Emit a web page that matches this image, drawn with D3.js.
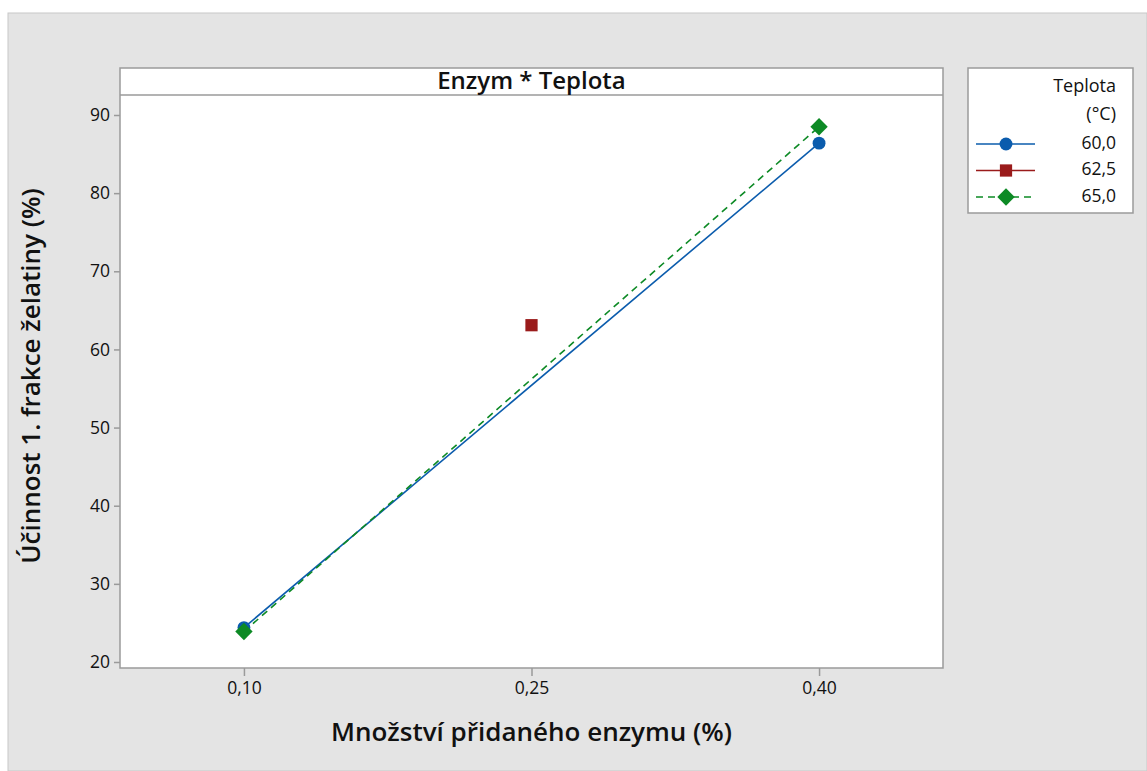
<!DOCTYPE html>
<html>
<head>
<meta charset="utf-8">
<script src="https://d3js.org/d3.v7.min.js"></script>
<style>
  body { margin: 0; background: white; }
  text { font-family: "Open Sans", "Noto Sans", sans-serif; fill: #111; font-weight: 600; }
</style>
</head>
<body>
<div id="chart"></div>
<script>
// data
const enzyme = ['0,10', '0,25', '0,40'];
const yTicks = [20, 30, 40, 50, 60, 70, 80, 90];
const temps = ['60,0', '62,5', '65,0'];
const colors = ['#0b5cad', '#9a1b1b', '#0d8a25'];
const symbols = ['circle', 'square', 'diamond'];
const dashes = [null, null, '7,5'];
const values60 = [24.4, null, 86.4];
const values625 = [null, 63.1, null];
const values65 = [23.9, null, 88.5];
const seriesValues = [values60, values625, values65];

const W = 1147, H = 771;
const plot = { left: 120, right: 943, top: 68, bottom: 668 };
const strip = 27;

const svg = d3.select('#chart').append('svg')
  .attr('width', W).attr('height', H);

// figure background
svg.append('rect')
  .attr('x', 8).attr('y', 13).attr('width', W - 8).attr('height', H - 13)
  .attr('fill', '#e4e4e4').attr('stroke', '#c8c8c8');

const x = d3.scalePoint().domain(enzyme)
  .range([plot.left, plot.right]).padding(0.431);
const y = d3.scaleLinear().domain([20, 90])
  .range([662, 115]);

// plot area
svg.append('rect')
  .attr('x', plot.left).attr('y', plot.top)
  .attr('width', plot.right - plot.left).attr('height', plot.bottom - plot.top)
  .attr('fill', 'white').attr('stroke', '#9a9a9a').attr('stroke-width', 1.5);
svg.append('line')
  .attr('x1', plot.left).attr('x2', plot.right)
  .attr('y1', plot.top + strip).attr('y2', plot.top + strip)
  .attr('stroke', '#9a9a9a').attr('stroke-width', 1.5);
svg.append('text')
  .attr('x', (plot.left + plot.right) / 2).attr('y', plot.top + strip / 2 + 1)
  .attr('text-anchor', 'middle').attr('dominant-baseline', 'middle')
  .style('font-size', '24px')
  .text('Enzym * Teplota');

// axes
const yAxis = svg.append('g')
  .attr('transform', `translate(${plot.left},0)`)
  .call(d3.axisLeft(y).tickValues(yTicks).tickSize(6).tickPadding(4));
const xAxis = svg.append('g')
  .attr('transform', `translate(0,${plot.bottom})`)
  .call(d3.axisBottom(x).tickSize(8).tickPadding(6));
[yAxis, xAxis].forEach(a => {
  a.select('.domain').remove();
  a.selectAll('line').attr('stroke', '#9a9a9a').attr('stroke-width', 1.5);
  a.selectAll('text').style('font-size', '17.5px')
    .style('font-family', '"Open Sans", "Noto Sans", sans-serif')
    .style('font-weight', 500).attr('fill', '#111');
});

// axis titles
svg.append('text')
  .attr('x', (plot.left + plot.right) / 2).attr('y', 741)
  .attr('text-anchor', 'middle').style('font-size', '26px')
  .text('Množství přidaného enzymu (%)');
svg.append('text')
  .attr('transform', `translate(40,${(plot.top + plot.bottom) / 2 + 8}) rotate(-90)`)
  .attr('text-anchor', 'middle').style('font-size', '26px')
  .text('Účinnost 1. frakce želatiny (%)');

// series
const line = d3.line()
  .defined(d => d.v != null)
  .x(d => x(d.k)).y(d => y(d.v));

seriesValues.forEach((vals, i) => {
  const pts = enzyme.map((k, j) => ({ k, v: vals[j] })).filter(d => d.v != null);
  svg.append('path')
    .datum(pts)
    .attr('d', line)
    .attr('fill', 'none')
    .attr('stroke', colors[i])
    .attr('stroke-width', 1.6)
    .attr('stroke-dasharray', dashes[i]);
});

// diamond = square turned 45 degrees
const symType = { circle: d3.symbolCircle, square: d3.symbolSquare, diamond: d3.symbolSquare };
const symSize = { circle: 130, square: 150, diamond: 150 };
const symRot = { circle: 0, square: 0, diamond: 45 };
seriesValues.forEach((vals, i) => {
  const pts = enzyme.map((k, j) => ({ k, v: vals[j] })).filter(d => d.v != null);
  svg.selectAll(null).data(pts).join('path')
    .attr('transform', d => `translate(${x(d.k)},${y(d.v)}) rotate(${symRot[symbols[i]]})`)
    .attr('d', d3.symbol().type(symType[symbols[i]]).size(symSize[symbols[i]]))
    .attr('fill', colors[i]);
});

// legend
const lg = svg.append('g').attr('transform', 'translate(968,68)');
lg.append('rect')
  .attr('width', 165).attr('height', 145)
  .attr('fill', 'white').attr('stroke', '#9a9a9a').attr('stroke-width', 1.5);
lg.append('text').attr('x', 148).attr('y', 24)
  .attr('text-anchor', 'end').style('font-size', '18px').style('font-weight', 500).text('Teplota');
lg.append('text').attr('x', 148).attr('y', 52)
  .attr('text-anchor', 'end').style('font-size', '18px').style('font-weight', 500).text('(°C)');
temps.forEach((t, i) => {
  const yy = 76 + i * 26.5;
  lg.append('line')
    .attr('x1', 8).attr('x2', 67).attr('y1', yy).attr('y2', yy)
    .attr('stroke', colors[i]).attr('stroke-width', 1.6)
    .attr('stroke-dasharray', dashes[i]);
  lg.append('path')
    .attr('transform', `translate(38,${yy}) rotate(${symRot[symbols[i]]})`)
    .attr('d', d3.symbol().type(symType[symbols[i]]).size(symSize[symbols[i]]))
    .attr('fill', colors[i]);
  lg.append('text').attr('x', 148).attr('y', yy)
    .attr('text-anchor', 'end').attr('dominant-baseline', 'middle')
    .style('font-size', '17.5px').style('font-weight', 500).text(t);
});
</script>
</body>
</html>
